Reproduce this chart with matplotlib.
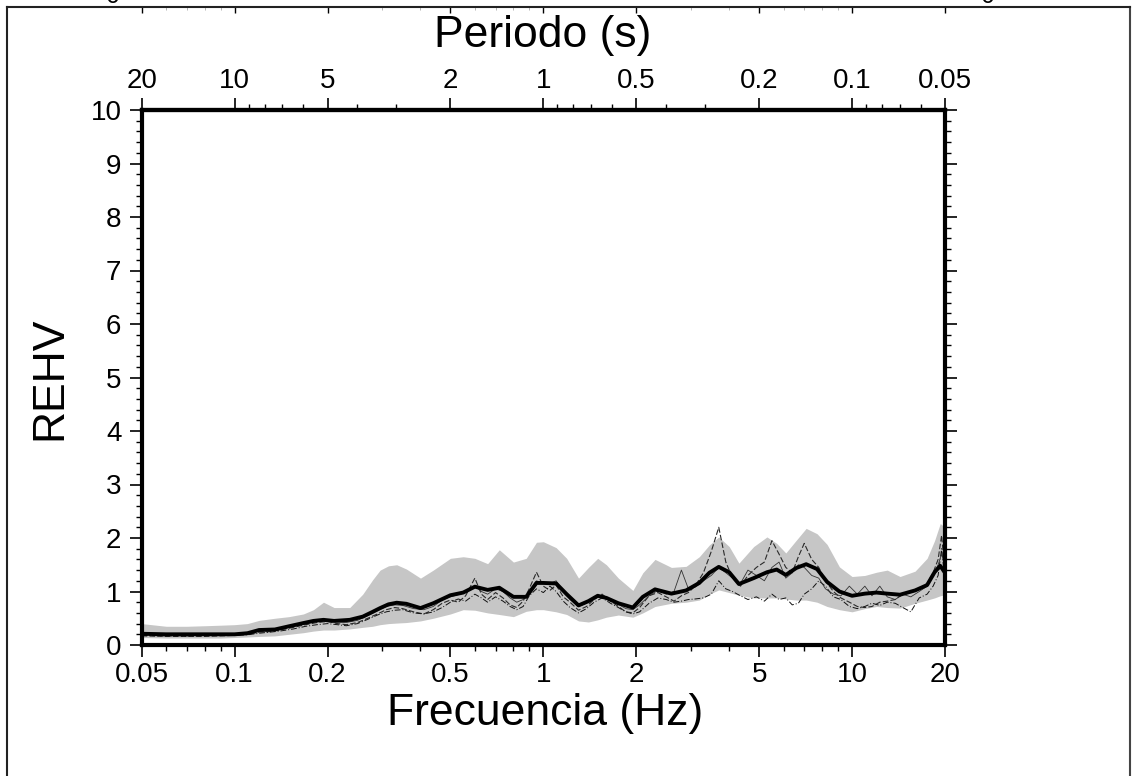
import matplotlib
matplotlib.use("Agg")
import matplotlib.pyplot as plt
from matplotlib.lines import Line2D
from matplotlib.ticker import FixedLocator, NullFormatter, FixedFormatter

plt.rcParams['font.family'] = ['Liberation Sans', 'DejaVu Sans']

# ---------------- data ----------------
freq_band = [0.05, 0.06, 0.07, 0.08, 0.09, 0.1, 0.11, 0.12, 0.135, 0.15, 0.167, 0.18, 0.194, 0.21,
             0.236, 0.26, 0.28, 0.296, 0.315, 0.335, 0.36, 0.4, 0.44, 0.5, 0.55, 0.6, 0.66, 0.72,
             0.8, 0.88, 0.95, 1.0, 1.1, 1.19, 1.3, 1.4, 1.5, 1.6, 1.75, 1.95, 2.1, 2.3, 2.6, 2.9,
             3.2, 3.45, 3.7, 4.0, 4.3, 4.8, 5.3, 5.7, 6.1, 6.6, 7.1, 7.7, 8.3, 9.1, 10, 11, 12, 13,
             14.3, 16, 17.5, 18.5, 19.3, 20]
band_upper = [0.40, 0.35, 0.35, 0.36, 0.37, 0.38, 0.40, 0.46, 0.50, 0.53, 0.58, 0.66, 0.80, 0.70,
              0.70, 0.95, 1.22, 1.40, 1.48, 1.50, 1.42, 1.25, 1.40, 1.62, 1.65, 1.62, 1.52, 1.78,
              1.55, 1.62, 1.92, 1.93, 1.82, 1.62, 1.25, 1.45, 1.62, 1.50, 1.25, 1.02, 1.35, 1.60,
              1.45, 1.47, 1.65, 1.87, 2.02, 1.84, 1.53, 1.84, 2.02, 1.90, 1.72, 1.96, 2.18, 2.08,
              1.88, 1.46, 1.28, 1.30, 1.36, 1.40, 1.28, 1.38, 1.62, 1.95, 2.27, 2.20]
band_lower = [0.14, 0.13, 0.13, 0.13, 0.13, 0.14, 0.15, 0.16, 0.17, 0.20, 0.23, 0.26, 0.28, 0.28,
              0.30, 0.33, 0.35, 0.38, 0.40, 0.41, 0.42, 0.45, 0.50, 0.58, 0.66, 0.65, 0.60, 0.57,
              0.53, 0.63, 0.66, 0.66, 0.62, 0.57, 0.45, 0.43, 0.47, 0.52, 0.56, 0.52, 0.60, 0.72,
              0.78, 0.80, 0.84, 0.95, 1.03, 0.98, 0.93, 0.88, 0.88, 0.88, 0.86, 0.84, 0.84, 0.80,
              0.72, 0.66, 0.62, 0.68, 0.72, 0.70, 0.69, 0.78, 0.84, 0.88, 0.92, 0.94]
rehv_mean = [0.21, 0.20, 0.20, 0.20, 0.20, 0.20, 0.22, 0.28, 0.29, 0.35, 0.41, 0.45, 0.47, 0.45,
             0.47, 0.53, 0.62, 0.69, 0.76, 0.79, 0.77, 0.69, 0.78, 0.93, 0.98, 1.09, 1.03, 1.07,
             0.90, 0.90, 1.16, 1.16, 1.15, 0.95, 0.74, 0.82, 0.92, 0.88, 0.78, 0.70, 0.90, 1.04,
             0.96, 1.02, 1.16, 1.35, 1.46, 1.36, 1.14, 1.25, 1.36, 1.41, 1.31, 1.44, 1.51, 1.42,
             1.18, 1.00, 0.92, 0.96, 0.98, 0.96, 0.94, 1.02, 1.12, 1.36, 1.48, 1.35]

freq_tr = [0.05, 0.06, 0.07, 0.08, 0.09, 0.1, 0.11, 0.12, 0.13, 0.14, 0.155, 0.17, 0.185, 0.2,
           0.215, 0.23, 0.25, 0.27, 0.29, 0.31, 0.33, 0.35, 0.38, 0.41, 0.44, 0.47, 0.5, 0.53,
           0.56, 0.6, 0.63, 0.66, 0.7, 0.74, 0.78, 0.82, 0.86, 0.9, 0.95, 1.0, 1.05, 1.1, 1.16,
           1.22, 1.3, 1.38, 1.46, 1.55, 1.65, 1.75, 1.85, 1.95, 2.05, 2.2, 2.35, 2.5, 2.65, 2.8,
           2.95, 3.1, 3.3, 3.5, 3.7, 3.9, 4.1, 4.35, 4.6, 4.9, 5.2, 5.5, 5.8, 6.1, 6.4, 6.7, 7.0,
           7.4, 7.8, 8.2, 8.7, 9.2, 9.8, 10.4, 11, 11.6, 12.3, 13, 13.8, 14.6, 15.5, 16.5, 17.5,
           18.3, 19, 19.5, 20]
trace_a = [0.17, 0.16, 0.16, 0.16, 0.17, 0.18, 0.20, 0.24, 0.25, 0.28, 0.33, 0.38, 0.42, 0.44,
           0.40, 0.38, 0.42, 0.50, 0.58, 0.66, 0.70, 0.68, 0.62, 0.58, 0.66, 0.78, 0.84, 0.80,
           0.92, 1.25, 0.95, 0.85, 0.98, 0.88, 0.75, 0.70, 0.82, 1.05, 1.36, 1.10, 1.02, 1.12, 0.90,
           0.80, 0.65, 0.72, 0.85, 0.95, 0.82, 0.72, 0.62, 0.60, 0.70, 0.92, 0.98, 0.90, 0.82, 0.92,
           0.98, 1.10, 1.35, 1.75, 2.20, 1.55, 1.25, 1.10, 1.30, 1.45, 1.55, 1.95, 1.70, 1.45, 1.35,
           1.65, 1.90, 1.60, 1.45, 1.20, 1.00, 0.88, 0.80, 0.72, 0.70, 0.72, 0.80, 0.82, 0.85, 0.95,
           1.00, 1.05, 1.15, 1.35, 1.60, 2.05, 1.35]
trace_b = [0.18, 0.17, 0.17, 0.18, 0.18, 0.18, 0.19, 0.22, 0.24, 0.26, 0.30, 0.35, 0.38, 0.40,
           0.38, 0.36, 0.40, 0.48, 0.56, 0.62, 0.65, 0.66, 0.60, 0.58, 0.62, 0.70, 0.80, 0.86,
           0.82, 0.95, 0.88, 0.80, 0.90, 0.82, 0.72, 0.66, 0.72, 0.92, 1.05, 0.98, 1.10, 1.00, 0.82,
           0.70, 0.60, 0.68, 0.80, 0.88, 0.78, 0.70, 0.62, 0.58, 0.62, 0.78, 0.88, 0.85, 0.80, 0.82,
           0.85, 0.86, 0.88, 0.95, 1.20, 1.05, 1.00, 0.92, 0.85, 0.90, 0.82, 0.95, 0.85, 0.88, 0.75,
           0.78, 0.95, 1.05, 1.20, 1.10, 0.90, 0.85, 0.72, 0.68, 0.72, 0.78, 0.74, 0.80, 0.78, 0.70,
           0.62, 0.88, 0.95, 1.10, 1.30, 1.80, 1.20]
trace_c = [0.20, 0.19, 0.19, 0.19, 0.19, 0.19, 0.21, 0.26, 0.27, 0.30, 0.35, 0.40, 0.44, 0.46,
           0.43, 0.42, 0.46, 0.55, 0.64, 0.72, 0.75, 0.74, 0.68, 0.66, 0.72, 0.84, 0.90, 0.94,
           0.98, 1.10, 1.00, 0.95, 1.05, 1.00, 0.88, 0.80, 0.85, 1.00, 1.20, 1.15, 1.15, 1.20, 1.00,
           0.85, 0.72, 0.78, 0.90, 0.92, 0.85, 0.76, 0.68, 0.66, 0.75, 0.92, 1.02, 0.95, 1.00, 1.40,
           1.05, 1.08, 1.20, 1.30, 1.45, 1.35, 1.25, 1.15, 1.40, 1.30, 1.20, 1.45, 1.55, 1.25, 1.35,
           1.50, 1.45, 1.30, 1.25, 1.05, 0.95, 0.92, 1.10, 0.95, 1.10, 0.92, 1.10, 0.90, 0.85, 0.95,
           0.90, 1.00, 1.10, 1.30, 1.50, 1.70, 1.45]

freq_major = [0.05, 0.1, 0.2, 0.5, 1, 2, 5, 10, 20]
freq_labels = ['0.05', '0.1', '0.2', '0.5', '1', '2', '5', '10', '20']
freq_minor = [0.06, 0.07, 0.08, 0.09, 0.3, 0.4, 0.6, 0.7, 0.8, 0.9, 3, 4, 6, 7, 8, 9]
period_labels = ['20', '10', '5', '2', '1', '0.5', '0.2', '0.1', '0.05']
period_minor = [9, 8, 7, 6, 4, 3, 0.9, 0.8, 0.7, 0.6, 0.4, 0.3, 0.09, 0.08, 0.07, 0.06]

# ---------------- figure ----------------
W, H = 1134, 776
fig = plt.figure(figsize=(W / 100, H / 100), dpi=100)

L, R, T, B = 141.7, 945.0, 110.0, 645.0
ax = fig.add_axes([L / W, 1 - B / H, (R - L) / W, (B - T) / H])
ax.set_xscale('log')
ax.set_xlim(0.05, 20)
ax.set_ylim(0, 10)

ax.fill_between(freq_band, band_lower, band_upper, color='#c6c6c6', lw=0, zorder=1)
ax.plot(freq_tr, trace_a, color='#2a2a2a', lw=0.8, ls=(0, (5, 2)), zorder=2)
ax.plot(freq_tr, trace_b, color='#111111', lw=0.7, ls=(0, (6, 2, 1, 2)), zorder=2)
ax.plot(freq_tr, trace_c, color='#333333', lw=0.6, ls='-', zorder=2)
ax.plot(freq_band, rehv_mean, color='black', lw=2.8, zorder=3,
        solid_joinstyle='round', solid_capstyle='round')

for s in ax.spines.values():
    s.set_linewidth(3)

ax.xaxis.set_major_locator(FixedLocator(freq_major))
ax.xaxis.set_major_formatter(FixedFormatter(freq_labels))
ax.xaxis.set_minor_locator(FixedLocator(freq_minor))
ax.xaxis.set_minor_formatter(NullFormatter())
ax.yaxis.set_major_locator(FixedLocator(list(range(0, 11))))
ax.yaxis.set_minor_locator(FixedLocator([i / 5 for i in range(0, 51) if i % 5]))

ax.tick_params(which='major', direction='out', length=8.6, width=1.2, labelsize=20,
               left=True, right=True, bottom=True, top=False, labelright=False)
ax.tick_params(which='minor', direction='out', length=4.3, width=1.0,
               left=True, right=True, bottom=True, top=False)
ax.tick_params(axis='x', which='major', pad=4)
ax.tick_params(axis='y', which='major', pad=6)

# secondary top axis for period
sec = ax.secondary_xaxis('top', functions=(lambda f: f, lambda f: f))
sec.xaxis.set_major_locator(FixedLocator(freq_major))
sec.xaxis.set_major_formatter(FixedFormatter(period_labels))
sec.xaxis.set_minor_locator(FixedLocator([1.0 / p for p in period_minor]))
sec.xaxis.set_minor_formatter(NullFormatter())
sec.tick_params(which='major', direction='out', length=8.6, width=1.2, labelsize=20, pad=3)
sec.tick_params(which='minor', direction='out', length=4.3, width=1.0)
sec.spines['top'].set_linewidth(3)

# axis titles
fig.text(543 / W, 1 - 36 / H, 'Periodo (s)', ha='center', va='center', fontsize=32)
fig.text(545 / W, 1 - 714 / H, 'Frecuencia (Hz)', ha='center', va='center', fontsize=32)
fig.text(50 / W, 1 - 378 / H, 'REHV', ha='center', va='center', fontsize=32, rotation=90)

# frame of the whole figure (cropped panel)
fig.add_artist(Line2D([7 / W, 7 / W], [0, 1 - 7 / H], color='#222222', lw=1.5))
fig.add_artist(Line2D([1130 / W, 1130 / W], [0, 1 - 7 / H], color='#444444', lw=1.5))
fig.add_artist(Line2D([7 / W, 1130 / W], [1 - 7 / H, 1 - 7 / H], color='#222222', lw=1.5))

# bottom axis of the panel above (cropped)
ax_up = fig.add_axes([L / W, 1 - 7 / H, (R - L) / W, 0.05])
ax_up.set_xscale('log')
ax_up.set_xlim(0.05, 20)
ax_up.set_ylim(0, 1)
ax_up.patch.set_visible(False)
for s in ax_up.spines.values():
    s.set_visible(False)
ax_up.xaxis.set_major_locator(FixedLocator(freq_major))
ax_up.xaxis.set_minor_locator(FixedLocator(freq_minor))
ax_up.xaxis.set_major_formatter(NullFormatter())
ax_up.xaxis.set_minor_formatter(NullFormatter())
ax_up.tick_params(which='major', direction='out', length=4, width=1.0, bottom=True, left=False)
ax_up.tick_params(which='minor', direction='out', length=2.5, width=0.5, colors='#999999',
                  bottom=True, left=False)
ax_up.set_yticks([])
fig.text(113 / W, 1 - 3 / H, '0', ha='center', va='baseline', fontsize=18)
fig.text(988 / W, 1 - 3 / H, '0', ha='center', va='baseline', fontsize=18)

fig.savefig('out.png', dpi=100)
